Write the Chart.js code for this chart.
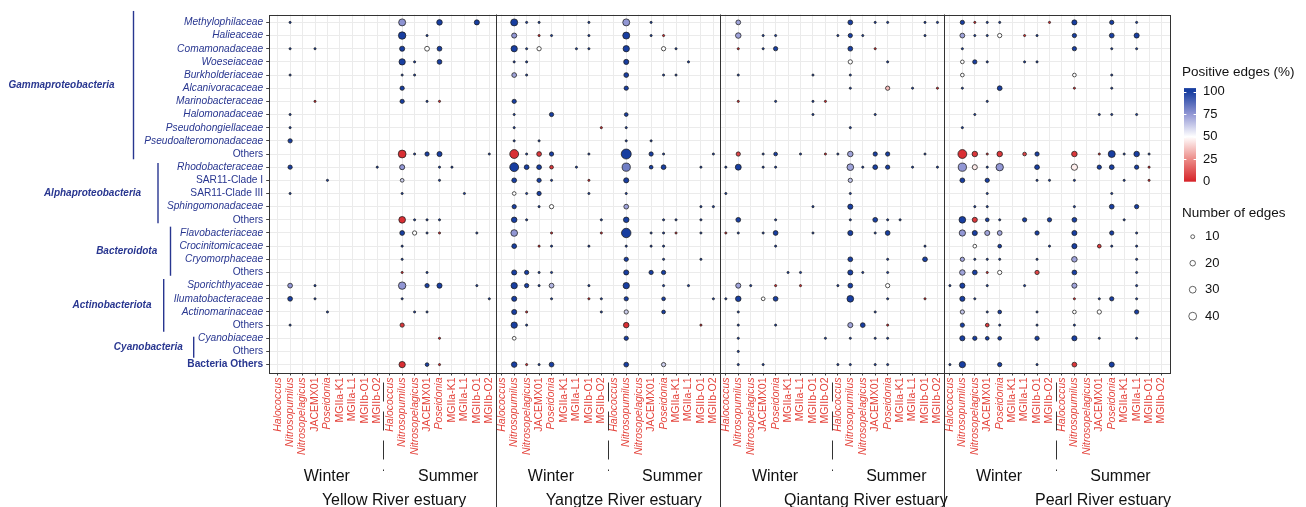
<!DOCTYPE html>
<html>
<head>
<meta charset="utf-8">
<script src="https://cdn.jsdelivr.net/npm/chart.js@4.4.1/dist/chart.umd.min.js"></script>
<style>
  html, body { margin: 0; padding: 0; background: #fff; }
  canvas { display: block; }
</style>
</head>
<body>
<canvas id="myChart" width="1306" height="507"></canvas>
<script>
// ---- data ----
const families = [
  'Methylophilaceae', 'Halieaceae', 'Comamonadaceae', 'Woeseiaceae', 'Burkholderiaceae',
  'Alcanivoracaceae', 'Marinobacteraceae', 'Halomonadaceae', 'Pseudohongiellaceae',
  'Pseudoalteromonadaceae', 'Others', 'Rhodobacteraceae', 'SAR11-Clade I', 'SAR11-Clade III',
  'Sphingomonadaceae', 'Others', 'Flavobacteriaceae', 'Crocinitomicaceae', 'Cryomorphaceae',
  'Others', 'Sporichthyaceae', 'Ilumatobacteraceae', 'Actinomarinaceae', 'Others',
  'Cyanobiaceae', 'Others', 'Bacteria Others'
];
const phyla = ['Gammaproteobacteria', 'Alphaproteobacteria', 'Bacteroidota', 'Actinobacteriota', 'Cyanobacteria'];
const phylumRows = [[0, 10], [11, 15], [16, 19], [20, 23], [24, 25]];
const genera = ['Halococcus', 'Nitrosopumilus', 'Nitrosopelagicus', 'JACEMX01', 'Poseidonia',
  'MGIIa-K1', 'MGIIa-L1', 'MGIIb-O1', 'MGIIb-O2'];
const italicGenera = ['Halococcus', 'Nitrosopumilus', 'Nitrosopelagicus', 'Poseidonia'];
const seasons = ['Winter', 'Summer'];
const estuaries = ['Yellow River estuary', 'Yangtze River estuary', 'Qiantang River estuary', 'Pearl River estuary'];
const colorBreaks = [100, 75, 50, 25, 0];
const sizeBreaks = [10, 20, 30, 40];

// [family row, column (0-8 winter, 9-17 summer), number of edges, positive edges %]
const yellowRiver = [
  [0,1,3,100],[0,10,32,76],[0,13,20,100],[0,16,17,100],
  [1,10,36,100],[1,12,3,100],
  [2,1,3,100],[2,3,3,100],[2,10,17,100],[2,12,15,50],[2,13,15,100],
  [3,10,26,100],[3,11,3,100],[3,13,15,100],
  [4,1,3,100],[4,10,3,100],[4,11,3,100],
  [5,10,12,100],
  [6,3,3,0],[6,10,12,100],[6,12,3,100],[6,13,3,0],
  [7,1,3,100],
  [8,1,3,100],
  [9,1,12,100],
  [10,10,40,3],[10,11,3,100],[10,12,12,100],[10,13,17,100],[10,17,3,100],
  [11,1,12,100],[11,8,3,100],[11,10,17,75],[11,13,3,100],[11,14,3,100],
  [12,4,3,100],[12,10,9,62],[12,13,3,100],
  [13,1,3,100],[13,10,3,100],[13,15,3,100],
  [15,10,29,3],[15,11,3,100],[15,12,3,100],[15,13,3,100],
  [16,10,15,100],[16,11,12,50],[16,12,3,100],[16,13,3,0],[16,16,3,100],
  [17,10,3,100],
  [18,10,3,100],
  [19,10,3,0],[19,12,3,100],
  [20,1,15,75],[20,3,3,100],[20,10,36,75],[20,12,12,100],[20,13,17,100],[20,16,3,100],
  [21,1,15,100],[21,3,3,100],[21,10,3,100],[21,17,3,100],
  [22,4,3,100],[22,11,3,100],[22,12,3,100],
  [23,1,3,100],[23,10,12,5],
  [24,13,3,0],
  [26,10,26,3],[26,12,9,100],[26,13,3,0]
];
const yangtzeRiver = [
  [0,1,32,100],[0,2,3,100],[0,3,3,100],[0,7,3,100],[0,10,32,75],[0,12,3,100],
  [1,1,17,75],[1,3,3,0],[1,4,3,100],[1,7,3,100],[1,10,32,100],[1,12,3,100],[1,13,3,0],
  [2,1,26,100],[2,2,3,100],[2,3,12,50],[2,6,3,100],[2,7,3,100],[2,10,26,100],[2,13,12,50],[2,14,3,100],
  [3,1,3,100],[3,2,3,100],[3,10,17,100],[3,15,3,100],
  [4,1,15,72],[4,2,3,100],[4,10,15,100],[4,13,3,100],[4,14,3,100],
  [5,10,12,100],
  [6,1,12,100],
  [7,1,3,100],[7,4,12,100],[7,10,9,100],
  [8,1,3,100],[8,8,3,0],[8,10,3,100],
  [9,1,3,100],[9,3,3,100],[9,10,3,100],[9,12,3,100],
  [10,1,51,3],[10,2,3,100],[10,3,15,5],[10,4,12,100],[10,7,3,100],[10,10,65,100],[10,12,12,100],[10,13,3,100],[10,17,3,100],
  [11,1,51,100],[11,2,15,100],[11,3,15,100],[11,4,9,5],[11,6,3,100],[11,10,44,82],[11,12,9,100],[11,13,15,100],[11,16,3,100],
  [12,1,15,100],[12,3,12,100],[12,4,3,100],[12,7,3,0],[12,10,17,100],
  [13,1,9,50],[13,2,3,100],[13,3,12,100],[13,7,3,100],[13,10,3,100],
  [14,1,12,100],[14,3,3,100],[14,4,12,50],[14,10,15,72],[14,16,3,100],[14,17,3,100],
  [15,1,20,100],[15,2,3,100],[15,8,3,100],[15,10,20,100],[15,13,3,100],[15,14,3,100],[15,16,3,100],
  [16,1,29,75],[16,4,3,0],[16,8,3,0],[16,10,58,100],[16,12,3,100],[16,13,3,100],[16,14,3,0],[16,16,3,100],
  [17,1,15,100],[17,3,3,0],[17,4,3,100],[17,7,3,100],[17,10,3,100],[17,12,3,100],[17,13,3,100],
  [18,10,12,100],[18,13,3,100],[18,16,3,100],
  [19,1,17,100],[19,2,12,100],[19,3,3,100],[19,4,3,100],[19,10,17,100],[19,12,12,100],[19,13,12,100],
  [20,1,26,100],[20,2,12,100],[20,3,3,100],[20,4,15,68],[20,7,3,100],[20,10,26,100],[20,13,3,100],[20,15,3,100],
  [21,1,17,100],[21,4,3,100],[21,7,3,0],[21,8,3,100],[21,10,12,100],[21,13,9,100],[21,17,3,100],
  [22,1,17,100],[22,2,3,0],[22,8,3,100],[22,10,12,62],[22,13,9,100],
  [23,1,26,100],[23,2,3,100],[23,10,20,3],[23,16,3,0],
  [24,1,9,50],[24,10,12,100],
  [26,1,20,100],[26,2,3,0],[26,3,3,100],[26,4,15,100],[26,10,15,100],[26,13,12,62]
];
const qiantangRiver = [
  [0,1,15,72],[0,10,15,100],[0,12,3,100],[0,13,3,100],[0,16,3,100],[0,17,3,100],
  [1,1,20,72],[1,3,3,100],[1,4,3,100],[1,9,3,100],[1,10,12,100],[1,11,3,100],[1,16,3,100],
  [2,1,3,0],[2,3,3,100],[2,4,12,100],[2,10,15,100],[2,12,3,0],
  [3,10,12,50],[3,13,3,100],
  [4,1,3,100],[4,7,3,100],[4,10,3,100],
  [5,10,3,100],[5,13,12,35],[5,15,3,100],[5,17,3,0],
  [6,1,3,0],[6,4,3,100],[6,7,3,100],[6,8,3,0],
  [7,7,3,100],[7,12,3,100],
  [8,10,3,100],
  [10,1,12,8],[10,3,3,100],[10,4,9,100],[10,6,3,100],[10,8,3,0],[10,9,3,100],[10,10,20,72],[10,12,12,100],[10,13,12,100],[10,16,3,100],
  [11,0,3,100],[11,1,23,100],[11,3,3,100],[11,4,3,100],[11,10,29,72],[11,11,3,100],[11,12,15,100],[11,13,12,100],[11,15,3,100],[11,17,3,100],
  [12,10,12,65],
  [13,0,3,100],[13,10,3,100],
  [14,7,3,100],[14,10,17,100],
  [15,1,15,100],[15,4,3,100],[15,10,3,100],[15,12,15,100],[15,13,3,100],[15,14,3,100],
  [16,0,3,0],[16,1,3,100],[16,3,3,100],[16,4,15,100],[16,7,3,100],[16,10,17,100],[16,12,3,100],[16,13,15,100],
  [17,4,3,100],[17,16,3,100],
  [18,10,15,100],[18,13,3,100],[18,16,15,100],
  [19,5,3,100],[19,6,3,100],[19,10,17,100],[19,11,3,100],[19,13,3,100],
  [20,1,17,72],[20,2,3,100],[20,4,3,0],[20,6,3,0],[20,9,3,100],[20,10,15,100],[20,13,12,50],
  [21,0,3,100],[21,1,20,100],[21,3,9,50],[21,4,15,100],[21,10,29,100],[21,13,3,100],[21,16,3,0],
  [22,1,3,100],[22,12,3,100],
  [23,1,3,100],[23,4,3,100],[23,10,17,72],[23,11,15,100],[23,13,3,0],
  [24,1,3,100],[24,8,3,100],[24,10,3,100],[24,12,3,100],[24,13,3,100],
  [25,1,3,100],
  [26,1,3,100],[26,3,3,100],[26,9,3,100],[26,10,3,100],[26,12,3,100],[26,13,3,100]
];
const pearlRiver = [
  [0,1,12,100],[0,2,3,0],[0,3,3,100],[0,4,3,100],[0,8,3,0],[0,10,17,100],[0,13,12,100],[0,15,3,100],
  [1,1,15,72],[1,2,3,100],[1,3,3,100],[1,4,12,50],[1,6,3,0],[1,7,3,100],[1,10,12,100],[1,13,15,100],[1,15,17,100],
  [2,1,3,100],[2,10,12,100],[2,13,3,100],[2,15,3,100],
  [3,1,9,50],[3,2,12,100],[3,3,3,100],[3,6,3,100],[3,7,3,100],
  [4,1,9,50],[4,10,9,50],[4,13,3,100],
  [5,1,3,100],[5,4,15,100],[5,10,3,0],[5,13,3,100],
  [6,3,3,100],
  [7,2,3,100],[7,12,3,100],[7,13,3,100],[7,15,3,100],
  [8,1,3,100],
  [10,1,51,3],[10,2,20,5],[10,3,3,0],[10,4,20,5],[10,6,9,8],[10,7,12,100],[10,10,20,5],[10,12,3,0],[10,13,32,100],[10,14,3,100],[10,15,20,100],[10,16,3,100],
  [11,1,44,75],[11,2,17,45],[11,3,3,100],[11,4,36,75],[11,7,15,100],[11,10,26,46],[11,12,12,100],[11,13,15,100],[11,15,12,100],[11,16,3,0],
  [12,1,15,100],[12,3,12,100],[12,7,3,100],[12,8,3,100],[12,10,3,100],[12,14,3,100],[12,16,3,0],
  [13,3,3,100],[13,13,3,100],
  [14,2,3,100],[14,3,3,100],[14,10,3,100],[14,13,15,100],[14,15,12,100],
  [15,1,29,100],[15,2,17,5],[15,3,9,100],[15,4,3,100],[15,6,12,100],[15,8,12,100],[15,10,15,100],[15,14,3,100],
  [16,1,26,75],[16,2,17,100],[16,3,17,72],[16,4,15,72],[16,7,12,100],[16,10,17,100],[16,13,12,100],[16,15,3,100],
  [17,2,9,50],[17,4,9,100],[17,8,3,100],[17,10,17,100],[17,12,9,5],[17,13,3,100],[17,15,3,100],
  [18,1,12,72],[18,2,3,100],[18,3,3,100],[18,4,3,100],[18,7,3,100],[18,10,20,72],[18,15,3,100],
  [19,1,20,72],[19,2,15,100],[19,3,3,0],[19,4,12,50],[19,7,12,8],[19,10,15,100],[19,15,3,100],
  [20,0,3,100],[20,1,17,100],[20,3,3,100],[20,6,3,100],[20,10,17,72],[20,15,3,100],
  [21,1,17,100],[21,2,3,100],[21,10,3,0],[21,12,3,100],[21,13,12,100],[21,15,3,100],
  [22,1,12,65],[22,3,3,100],[22,4,9,100],[22,7,3,100],[22,10,9,50],[22,12,12,50],[22,15,12,100],
  [23,1,12,100],[23,3,9,5],[23,4,3,100],[23,7,3,100],[23,10,3,100],
  [24,1,17,100],[24,2,12,100],[24,3,9,100],[24,4,9,100],[24,7,12,100],[24,10,17,100],[24,12,3,100],[24,15,3,100],
  [26,0,3,100],[26,1,26,100],[26,4,12,100],[26,7,3,100],[26,10,15,5],[26,13,17,100]
];
const panels = [yellowRiver, yangtzeRiver, qiantangRiver, pearlRiver];

// ---- styles ----
const FONT = '"Liberation Sans", Arial, sans-serif';
const NAVY = '#283690';
const LABEL_RED = '#e4443c';
const fillStops = [[0, [214, 34, 40]], [25, [236, 140, 136]], [50, [255, 255, 255]], [75, [146, 151, 212]], [100, [24, 62, 160]]];
const COLS = genera.length * seasons.length;

function fillFor(pct) {
  for (let i = 1; i < fillStops.length; i++) {
    const [v1, c1] = fillStops[i];
    const [v0, c0] = fillStops[i - 1];
    if (pct <= v1) {
      const t = (pct - v0) / (v1 - v0);
      const c = c0.map((a, k) => Math.round(a + (c1[k] - a) * t));
      return `rgb(${c[0]},${c[1]},${c[2]})`;
    }
  }
  return 'rgb(24,62,160)';
}
function radiusFor(n) { return 0.62 * Math.sqrt(n); }

const points = [];
panels.forEach((list, p) => {
  list.forEach(([row, col, n, pct]) => {
    points.push({ x: p * COLS + col, y: row, r: radiusFor(n), n: n, pct: pct });
  });
});

// bracket / label placement for the phylum groups (y in row units, x in pixels)
const bracketLayout = [
  { lineX: 133.5, top: -0.87, bottom: 10.4, textX: 61.5 },
  { lineX: 158, top: 10.68, bottom: 15.26, textX: 92.5 },
  { lineX: 170.5, top: 15.52, bottom: 19.25, textX: 126.7 },
  { lineX: 163.7, top: 19.5, bottom: 23.5, textX: 112 },
  { lineX: 193.7, top: 23.88, bottom: 25.48, textX: 148.3 }
];
const estuaryLabelX = [9.35, 9.8, 11.25, 12.3];

const overlay = {
  id: 'overlay',
  afterDraw(chart) {
    const { ctx, chartArea: a, scales: { x, y } } = chart;
    ctx.save();

    // panel frame and facet separators
    ctx.strokeStyle = '#333';
    ctx.lineWidth = 1;
    ctx.strokeRect(Math.round(a.left) + 0.5, Math.round(a.top) + 0.5,
      Math.round(a.right - a.left), Math.round(a.bottom - a.top));
    for (let p = 1; p < estuaries.length; p++) {
      const px = Math.round(x.getPixelForValue(p * COLS - 0.5)) + 0.5;
      ctx.beginPath(); ctx.moveTo(px, a.top); ctx.lineTo(px, 507); ctx.stroke();
    }
    // winter / summer dashed dividers
    ctx.setLineDash([19, 10]);
    ctx.lineDashOffset = 19;
    estuaries.forEach((_, p) => {
      const px = Math.round(x.getPixelForValue(p * COLS + 8.5)) + 0.5;
      ctx.beginPath(); ctx.moveTo(px, a.bottom); ctx.lineTo(px, 471); ctx.stroke();
    });
    ctx.setLineDash([]);

    // season and estuary labels
    ctx.fillStyle = '#111';
    ctx.font = '16px ' + FONT;
    ctx.textAlign = 'center';
    ctx.textBaseline = 'alphabetic';
    estuaries.forEach((name, p) => {
      const base = p * COLS;
      ctx.fillText(seasons[0], x.getPixelForValue(base + 3.95), 481);
      ctx.fillText(seasons[1], x.getPixelForValue(base + 13.7), 481);
      ctx.fillText(name, x.getPixelForValue(base + estuaryLabelX[p]), 504.5);
    });

    // phylum brackets
    ctx.strokeStyle = NAVY;
    ctx.fillStyle = NAVY;
    ctx.lineWidth = 1.4;
    ctx.font = 'italic bold 10px ' + FONT;
    ctx.textBaseline = 'middle';
    phyla.forEach((name, i) => {
      const b = bracketLayout[i];
      const y0 = y.getPixelForValue(b.top), y1 = y.getPixelForValue(b.bottom);
      ctx.beginPath(); ctx.moveTo(b.lineX, y0); ctx.lineTo(b.lineX, y1); ctx.stroke();
      ctx.fillText(name, b.textX, (y0 + y1) / 2);
    });

    // colour legend
    ctx.fillStyle = '#111';
    ctx.textAlign = 'left';
    ctx.font = '13.5px ' + FONT;
    ctx.fillText('Positive edges (%)', 1182, 72);
    const barX = 1184, barW = 12, v2y = v => 181.7 - 0.9 * v;
    const grad = ctx.createLinearGradient(0, v2y(100), 0, v2y(0));
    fillStops.forEach(([v]) => grad.addColorStop(1 - v / 100, fillFor(v)));
    ctx.fillStyle = grad;
    ctx.fillRect(barX, v2y(104), barW, v2y(0) - v2y(104));
    ctx.strokeStyle = '#fff';
    ctx.lineWidth = 1;
    ctx.font = '13px ' + FONT;
    colorBreaks.forEach(v => {
      const ty = Math.round(v2y(v)) + 0.5;
      ctx.beginPath();
      ctx.moveTo(barX, ty); ctx.lineTo(barX + 2.4, ty);
      ctx.moveTo(barX + barW - 2.4, ty); ctx.lineTo(barX + barW, ty);
      ctx.stroke();
      ctx.fillStyle = '#111';
      ctx.fillText(String(v), 1203, v2y(v));
    });

    // size legend
    ctx.font = '13.5px ' + FONT;
    ctx.fillText('Number of edges', 1182, 213.3);
    ctx.font = '13px ' + FONT;
    sizeBreaks.forEach((n, i) => {
      const cy = 236.7 + i * 26.5;
      ctx.beginPath();
      ctx.arc(1192.7, cy, radiusFor(n), 0, Math.PI * 2);
      ctx.fillStyle = '#fff'; ctx.fill();
      ctx.strokeStyle = '#222'; ctx.lineWidth = 0.7; ctx.stroke();
      ctx.fillStyle = '#111';
      ctx.fillText(String(n), 1205, cy);
    });
    ctx.restore();
  }
};

Chart.defaults.font.family = FONT;

const canvas = document.getElementById('myChart');
const ctx = canvas.getContext('2d');
const myChart = new Chart(ctx, {
  type: 'bubble',
  data: {
    datasets: [{
      data: points,
      backgroundColor: c => fillFor(c.raw ? c.raw.pct : 100),
      borderColor: '#1e1e1e',
      borderWidth: 0.75,
      hoverRadius: 0
    }]
  },
  options: {
    responsive: false,
    animation: false,
    devicePixelRatio: 1,
    layout: { padding: { top: 14.5, right: 136, bottom: 0, left: 0 } },
    plugins: { legend: { display: false }, tooltip: { enabled: false } },
    scales: {
      x: {
        type: 'linear',
        min: -0.68,
        max: estuaries.length * COLS - 1 + 0.68,
        afterBuildTicks: s => { s.ticks = Array.from({ length: estuaries.length * COLS }, (_, i) => ({ value: i })); },
        afterFit: s => { s.height = 134.5; },
        border: { display: false },
        grid: { color: '#ebebeb', lineWidth: 1, tickColor: '#444', tickLength: 3 },
        ticks: {
          autoSkip: false,
          minRotation: 90,
          maxRotation: 90,
          padding: 2,
          color: LABEL_RED,
          callback: v => genera[v % genera.length],
          font: c => {
            const v = c.tick ? c.tick.value : c.index;
            return { size: 10.5, style: italicGenera.includes(genera[v % genera.length]) ? 'italic' : 'normal' };
          }
        }
      },
      y: {
        type: 'linear',
        reverse: true,
        min: -0.6,
        max: families.length - 1 + 0.6,
        afterBuildTicks: s => { s.ticks = families.map((_, i) => ({ value: i })); },
        afterFit: s => { s.width = 269.2; },
        border: { display: false },
        grid: { color: '#ebebeb', lineWidth: 1, tickColor: '#444', tickLength: 3 },
        ticks: {
          autoSkip: false,
          padding: 3,
          color: NAVY,
          callback: v => families[v],
          font: c => {
            const name = families[c.tick ? c.tick.value : c.index] || '';
            if (name === 'Bacteria Others') return { size: 10.2, weight: 'bold' };
            return { size: 10.2, style: name.endsWith('aceae') ? 'italic' : 'normal' };
          }
        }
      }
    }
  },
  plugins: [overlay]
});
</script>
</body>
</html>
